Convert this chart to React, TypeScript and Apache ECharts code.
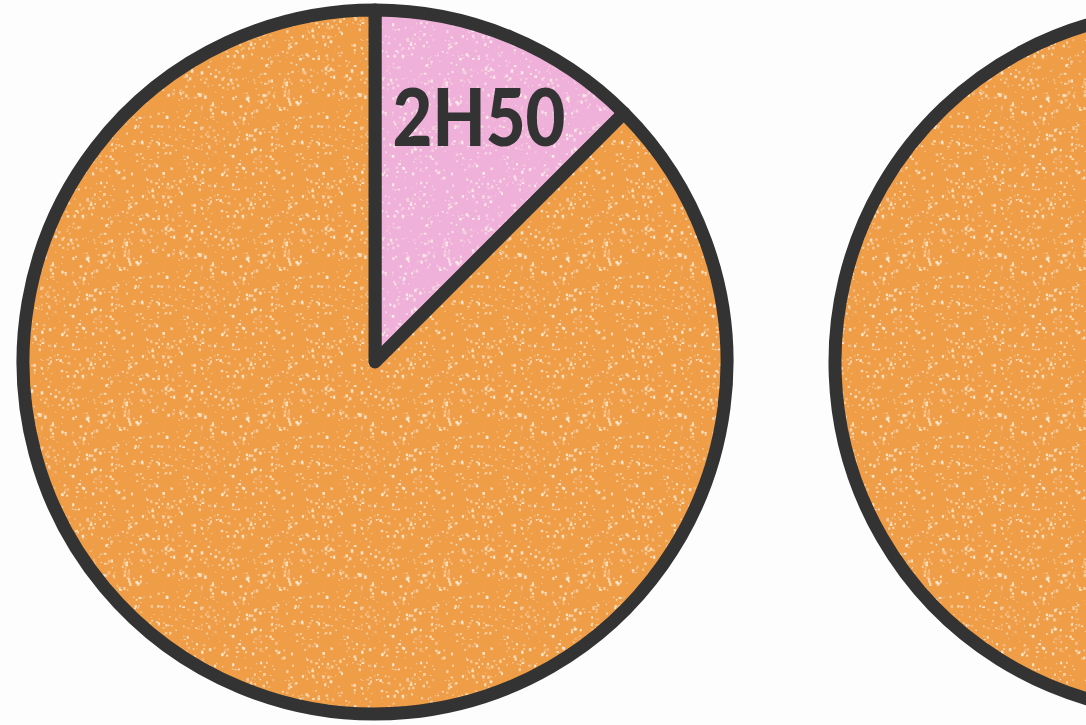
import React, { useEffect, useRef } from "react";
import * as echarts from "echarts";

const leftNames = ["2H50", "reste"];
const leftShares = [12.5, 87.5];
const rightNames = ["reste"];
const rightShares = [100];
const sliceColors = ["#efb0d9", "#ef9d47"];

function speckle(base: string): HTMLCanvasElement {
  const c = document.createElement("canvas");
  c.width = 160;
  c.height = 160;
  const ctx = c.getContext("2d")!;
  ctx.fillStyle = base;
  ctx.fillRect(0, 0, 160, 160);
  let s = 12345;
  const rnd = () => {
    s = (s * 16807) % 2147483647;
    return s / 2147483647;
  };
  for (let i = 0; i < 700; i++) {
    const a = 0.25 + rnd() * 0.6;
    ctx.fillStyle = `rgba(255,248,235,${a})`;
    const w = 0.8 + rnd() * 2;
    ctx.fillRect(rnd() * 160, rnd() * 160, w, w * (0.6 + rnd() * 0.8));
  }
  return c;
}

export default function App() {
  const ref = useRef<HTMLDivElement>(null);
  useEffect(() => {
    document.body.style.margin = "0";
    document.body.style.background = "#fdfdfd";
    const chart = echarts.init(ref.current!, null, { renderer: "svg" });
    const pink = { image: speckle(sliceColors[0]), repeat: "repeat" };
    const orange = { image: speckle(sliceColors[1]), repeat: "repeat" };
    const border = { borderColor: "#333333", borderWidth: 13, borderJoin: "round" };
    chart.setOption({
      animation: false,
      backgroundColor: "#fdfdfd",
      series: [
        {
          type: "pie",
          center: [375, 362],
          radius: 352,
          startAngle: 90,
          clockwise: true,
          silent: true,
          label: { show: false },
          labelLine: { show: false },
          data: leftNames.map((n, i) => ({
            name: n,
            value: leftShares[i],
            itemStyle: { color: i === 0 ? pink : orange, ...border },
          })),
        },
        {
          type: "pie",
          center: [1186, 362],
          radius: 351,
          startAngle: 90,
          silent: true,
          label: { show: false },
          labelLine: { show: false },
          data: rightNames.map((n, i) => ({
            name: n,
            value: rightShares[i],
            itemStyle: { color: orange, ...border },
          })),
        },
      ],
      graphic: [
        {
          type: "text",
          x: 479,
          y: 115,
          z: 100,
          scaleX: 0.86,
          style: {
            text: leftNames[0],
            fill: "#333333",
            fontSize: 80,
            fontWeight: 900,
            fontFamily: "Lato",
            align: "center",
            verticalAlign: "middle",
          },
        },
      ],
    });
    return () => chart.dispose();
  }, []);
  return <div ref={ref} style={{ width: 1086, height: 725 }} />;
}
